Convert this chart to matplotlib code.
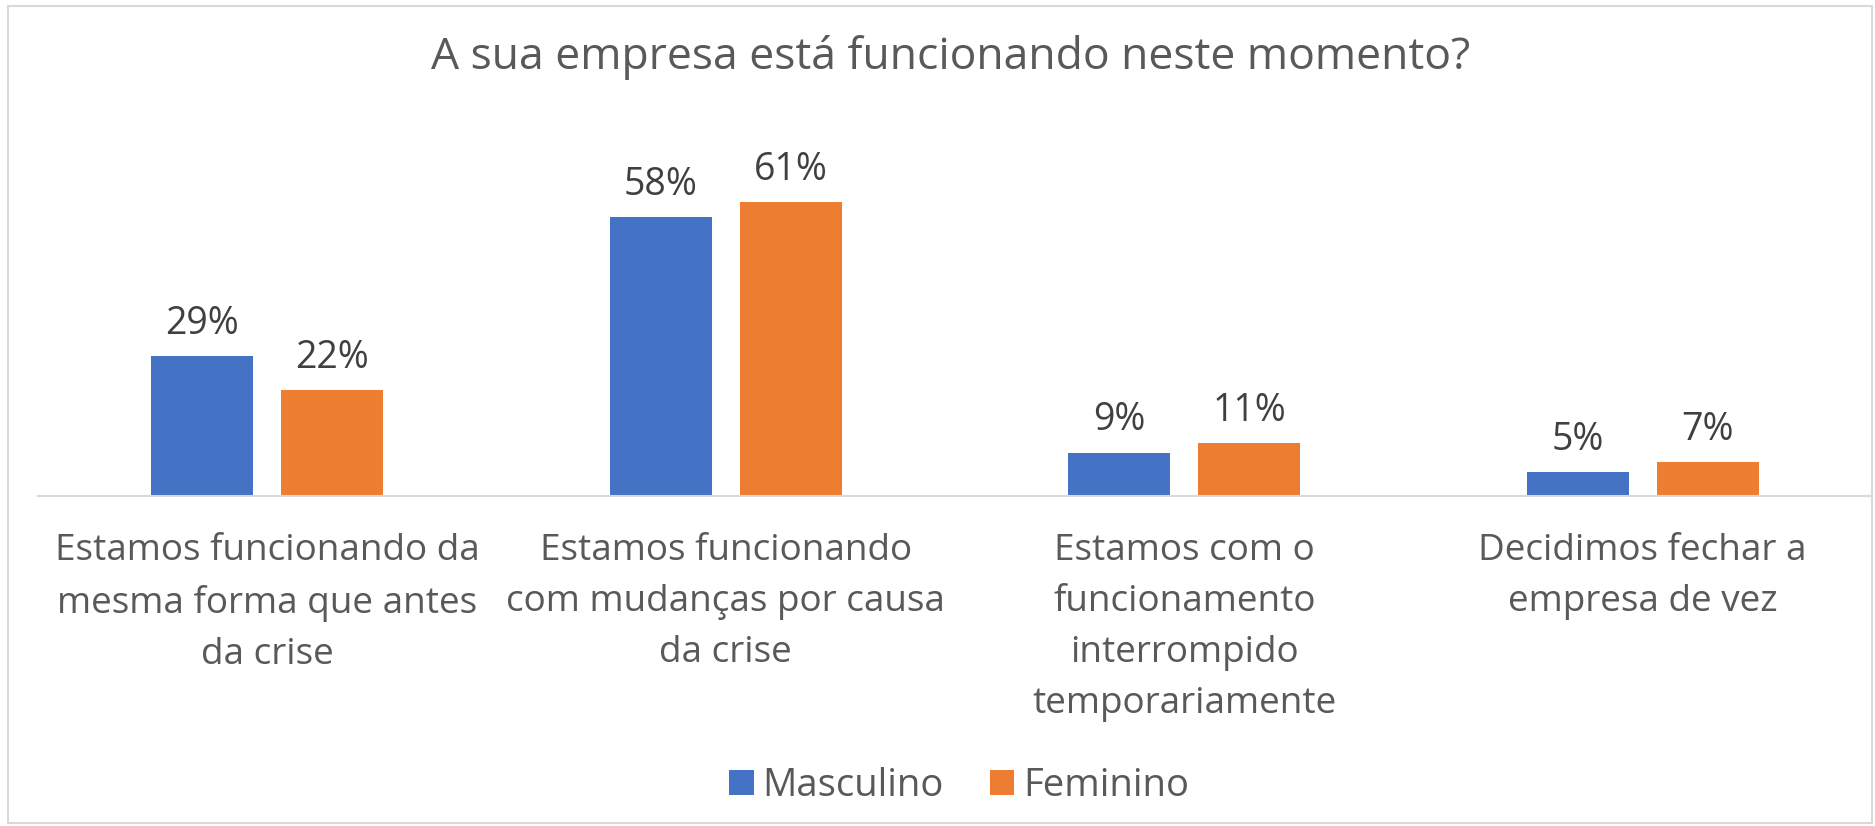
import numpy as np
import matplotlib
matplotlib.use('Agg')
import matplotlib.pyplot as plt
from matplotlib.patches import Patch, Rectangle

plt.rcParams['font.family'] = ['Open Sans', 'DejaVu Sans']

# dados
categorias = [
    'Estamos funcionando da\nmesma forma que antes\nda crise',
    'Estamos funcionando\ncom mudanças por causa\nda crise',
    'Estamos com o\nfuncionamento\ninterrompido\ntemporariamente',
    'Decidimos fechar a\nempresa de vez',
]
masculino = [29, 58, 9, 5]
feminino = [22, 61, 11, 7]
series = ['Masculino', 'Feminino']

azul = '#4472C4'
laranja = '#ED7D31'
cinza_texto = '#595959'

W, H = 1875, 826
fig = plt.figure(figsize=(W / 100, H / 100), dpi=100)
fig.patch.set_facecolor('white')

ax = fig.add_axes([38 / W, (H - 496) / H, (1872 - 38) / W, 346 / H])

x = np.arange(len(categorias))
largura = 0.222
desloc = 0.142

b1 = ax.bar(x - desloc, masculino, largura, color=azul, label=series[0])
b2 = ax.bar(x + desloc, feminino, largura, color=laranja, label=series[1])

for barras, vals in [(b1, masculino), (b2, feminino)]:
    for barra, v in zip(barras, vals):
        ax.annotate(f'{v}%', (barra.get_x() + barra.get_width() / 2, v),
                    xytext=(0, 16), textcoords='offset points',
                    ha='center', va='baseline', fontsize=27, color='#404040')

ax.set_xlim(-0.5, len(categorias) - 0.5)
ax.set_ylim(0, 71.9)
ax.set_yticks([])
ax.set_xticks(x)
ax.set_xticklabels(categorias, fontsize=26.6, color=cinza_texto, linespacing=1.55)
ax.tick_params(axis='x', length=0, pad=27)

for lado in ['top', 'left', 'right']:
    ax.spines[lado].set_visible(False)
ax.spines['bottom'].set_color('#D9D9D9')
ax.spines['bottom'].set_linewidth(1.5)

fig.text(951 / W, (H - 58) / H, 'A sua empresa está funcionando neste momento?',
         ha='center', va='center', fontsize=32, color=cinza_texto)

handles = [Patch(facecolor=azul), Patch(facecolor=laranja)]
leg = fig.legend(handles, series, loc='center', bbox_to_anchor=(959 / W, 40 / H),
                 ncol=2, frameon=False, fontsize=27.5, handlelength=0.65,
                 handleheight=0.65, handletextpad=0.22, columnspacing=1.2)
for t in leg.get_texts():
    t.set_color(cinza_texto)

# moldura
fig.add_artist(Rectangle((8 / W, 3 / H), (1872 - 8) / W, (823 - 6) / H,
                         transform=fig.transFigure, fill=False,
                         edgecolor='#D9D9D9', linewidth=1.5))

fig.savefig('out.png', dpi=100)
